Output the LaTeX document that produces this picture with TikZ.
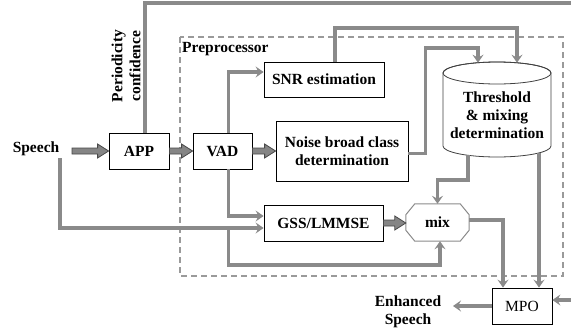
\documentclass[tikz,border=0pt]{standalone}
\usepackage{fontspec}
\setmainfont{Liberation Serif}
\usetikzlibrary{arrows.meta,calc}
\definecolor{linegray}{HTML}{8A8A8A}
\definecolor{darkgray}{HTML}{484848}
\definecolor{blockfill}{HTML}{858585}
\definecolor{dashgray}{HTML}{9A9A9A}
\begin{document}
\begin{tikzpicture}[x=1pt,y=-1pt,
  font=\fontsize{15.5}{18}\selectfont\bfseries,
  box/.style={draw=black, line width=0.8pt, fill=white, align=center, inner sep=2pt},
  conn/.style={draw=linegray, line width=3.5pt, -{Stealth[length=8pt,width=11pt,inset=3pt]}},
  blockarrow/.style={draw=darkgray, fill=blockfill, line width=0.8pt,
    to path={let \p1=(\tikztostart), \p2=(\tikztotarget) in
      (\x1,\y1+3pt) -- (\x2-11pt,\y1+3pt) -- (\x2-11pt,\y1+7pt) -- (\x2,\y1)
      -- (\x2-11pt,\y1-7pt) -- (\x2-11pt,\y1-3pt) -- (\x1,\y1-3pt) -- cycle}},
  label/.style={align=center, inner sep=0pt}
]
\useasboundingbox (0,0) rectangle (571,330);

% preprocessor frame
\draw[dashgray, line width=1.2pt, dash pattern=on 6pt off 4pt] (180,37) rectangle (563,276);
\node[label, anchor=west] (pre) at (182,49) {Preprocessor};

% boxes
\node[box, minimum width=60pt, minimum height=36pt] (APP) at (139,151) {APP};
\node[box, minimum width=59pt, minimum height=36pt] (VAD) at (222.5,151) {VAD};
\node[box, minimum width=120pt, minimum height=35pt] (SNR) at (324,79.5) {SNR estimation};
\node[box, minimum width=132pt, minimum height=60pt] (Noise) at (342,151) {Noise broad class\\determination};
\node[box, minimum width=119pt, minimum height=36pt] (GSS) at (323.5,223) {GSS/LMMSE};
\node[box, minimum width=60pt, minimum height=36pt, font=\fontsize{15.5}{18}\selectfont] (MPO) at (522,306) {MPO};

% mix octagon
\node[minimum width=63pt, minimum height=37pt, inner sep=0pt] (mix) at (437.5,222.5) {mix};
\draw[linegray, line width=1pt]
  ($(mix.north west)+(9,0)$) -- ($(mix.north east)+(-9,0)$) -- ($(mix.north east)+(0,11)$)
  -- ($(mix.south east)+(0,-11)$) -- ($(mix.south east)+(-9,0)$) -- ($(mix.south west)+(9,0)$)
  -- ($(mix.south west)+(0,-11)$) -- ($(mix.north west)+(0,11)$) -- cycle;

% cylinder
\draw[black!75, line width=0.8pt, fill=white] (443,73) -- (443,146)
  arc[start angle=180, end angle=360, x radius=54pt, y radius=11pt] -- (551,73)
  arc[start angle=0, end angle=180, x radius=54pt, y radius=11pt] -- cycle;
\draw[black!75, line width=0.8pt] (497,73) ellipse [x radius=54pt, y radius=11pt];
\node[label] (Thr) at (497,115) {Threshold\\\& mixing\\determination};
\coordinate (cyltopA) at (478,62.7);
\coordinate (cyltopB) at (517,62.7);
\coordinate (cylbotA) at (468,155.3);
\coordinate (cylbotB) at (539,152.9);

% texts
\node[label] (speech) at (36,149) {Speech};
\node[label, rotate=90] (period) at (126,66) {Periodicity\\confidence};
\node[label] (enh) at (408,312) {Enhanced\\Speech};

\coordinate (sin) at (72,151);
\coordinate (sbr) at (60,158);
\coordinate (jn) at (228.5,228);
\coordinate (es) at (453,306);

% connectors
\draw[conn] ($(APP.north)+(6,0)$) |- (576,3) |- ($(MPO.east)+(0,-6)$);
\draw[conn] ($(VAD.north)+(6,0)$) |- ($(SNR.west)+(0,-7.5)$);
\draw[conn] ($(SNR.north)+(11,0)$) |- (517,28) -- (cyltopB);
\draw[conn] ($(Noise.east)+(0,2.5)$) -- ++(17,0) |- (478,48) -- (cyltopA);
\draw[conn] (cylbotA) -- (468,180) -| (mix.north);
\draw[conn] (cylbotB) -- (cylbotB |- MPO.north);
\draw[conn] ($(VAD.south)+(6,0)$) |- ($(GSS.west)+(0,-7)$);
\draw[conn] (sbr) |- ($(GSS.west)+(0,5)$);
\draw[conn] (jn) |- (440,265) -- ($(mix.south)+(2.5,0)$);
\draw[conn] ($(mix.east)+(0,-2.5)$) -| ($(MPO.north)+(-19,0)$);
\draw[conn] (MPO.west) -- (es);

% block arrows
\path[blockarrow] (sin) to (APP.west);
\path[blockarrow] (APP.east) to (VAD.west);
\path[blockarrow] (VAD.east) to (Noise.west);
\path[blockarrow] (GSS.east) to (mix.west);
\end{tikzpicture}
\end{document}
